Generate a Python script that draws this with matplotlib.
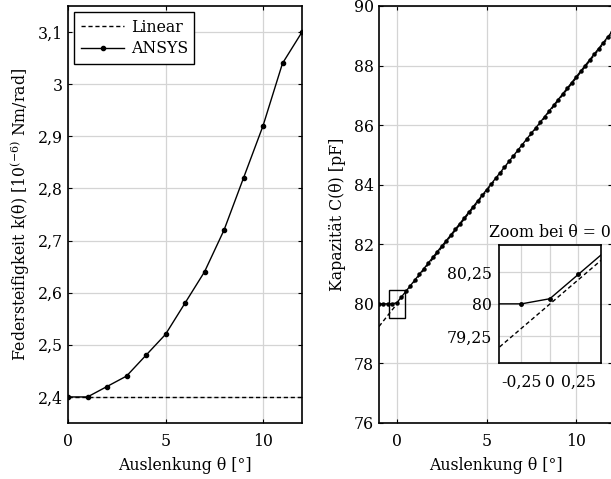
import numpy as np
import matplotlib
matplotlib.use("Agg")
import matplotlib.pyplot as plt
from matplotlib.patches import Rectangle

plt.rcParams['font.family'] = ['DejaVu Serif']
plt.rcParams['mathtext.fontset'] = 'dejavuserif'
FS = 11.3
plt.rcParams['font.size'] = FS

# ---- left panel data ----
theta_k = [0, 1, 2, 3, 4, 5, 6, 7, 8, 9, 10, 11, 12]
k_ansys = [2.40, 2.40, 2.42, 2.44, 2.48, 2.52, 2.58, 2.64, 2.72, 2.82, 2.92, 3.04, 3.10]
theta_k_lin = [0, 12]
k_lin = [2.40, 2.40]
k_yticks = [2.4, 2.5, 2.6, 2.7, 2.8, 2.9, 3.0, 3.1]
k_yticklabels = ["2,4", "2,5", "2,6", "2,7", "2,8", "2,9", "3", "3,1"]

# ---- right panel data ----
theta_c = np.arange(-1, 12.001, 0.25)
c_ansys = [80.00, 80.00, 80.00, 80.00,
           80.04, 80.23, 80.42, 80.61, 80.80, 80.99, 81.18, 81.37, 81.56,
           81.75, 81.94, 82.12, 82.31, 82.50, 82.69, 82.88, 83.07, 83.26,
           83.45, 83.64, 83.83, 84.02, 84.21, 84.40, 84.59, 84.78, 84.97,
           85.16, 85.35, 85.54, 85.73, 85.91, 86.10, 86.29, 86.48, 86.67,
           86.86, 87.05, 87.24, 87.43, 87.62, 87.81, 88.00, 88.19, 88.38,
           88.57, 88.76, 88.95, 89.14]
theta_c_lin = [-1, 12]
c_lin = [79.24, 89.10]
c_yticks = [76, 78, 80, 82, 84, 86, 88, 90]

inset_xticks = [-0.25, 0, 0.25]
inset_xticklabels = ["-0,25", "0", "0,25"]
inset_yticks = [79.75, 80, 80.25]
inset_yticklabels = ["79,25", "80", "80,25"]
inset_xlim = (-0.45, 0.45)
inset_ylim = (79.54, 80.46)

grid_kw = dict(color='#d4d4d4', linewidth=0.9)
line_kw = dict(color='black', linewidth=1.0)


def style(ax):
    ax.grid(True, **grid_kw)
    ax.set_axisbelow(True)
    ax.tick_params(direction='in', top=True, right=True, length=3, width=0.8,
                   labelsize=FS, colors='black')
    ax.tick_params(axis='x', pad=7.5)
    for s in ax.spines.values():
        s.set_linewidth(1.2)
        s.set_color('black')


fig = plt.figure(figsize=(6.11, 4.79), dpi=100)

ax1 = fig.add_axes([68 / 611, 56 / 479, 234 / 611, 417 / 479])
ax1.plot(theta_k_lin, k_lin, linestyle='--', dashes=(3, 2), label='Linear', **line_kw)
ax1.plot(theta_k, k_ansys, marker='o', markersize=3, label='ANSYS', **line_kw)
ax1.set_xlim(0, 12)
ax1.set_ylim(2.35, 3.15)
ax1.set_xticks([0, 5, 10])
ax1.set_yticks(k_yticks)
ax1.set_yticklabels(k_yticklabels)
ax1.set_xlabel('Auslenkung θ [°]', labelpad=5)
ax1.set_ylabel(r'Federsteifigkeit k(θ) [10$^{\mathrm{(-6)}}$ Nm/rad]', labelpad=4)
style(ax1)
leg = ax1.legend(loc='upper left', fancybox=False, edgecolor='black',
                 framealpha=1, handlelength=2.8, borderpad=0.4,
                 labelspacing=0.3, handletextpad=0.4, borderaxespad=0.4)
leg.get_frame().set_linewidth(1.0)

ax2 = fig.add_axes([379 / 611, 56 / 479, 233 / 611, 417 / 479])
ax2.plot(theta_c_lin, c_lin, linestyle='--', dashes=(3, 2), **line_kw)
ax2.plot(theta_c, c_ansys, marker='o', markersize=2.2, **line_kw)
ax2.set_xlim(-1, 12)
ax2.set_ylim(76, 90)
ax2.set_xticks([0, 5, 10])
ax2.set_yticks(c_yticks)
ax2.set_xlabel('Auslenkung θ [°]', labelpad=5)
ax2.set_ylabel('Kapazität C(θ) [pF]', labelpad=6)
style(ax2)
ax2.add_patch(Rectangle((inset_xlim[0], inset_ylim[0]),
                        inset_xlim[1] - inset_xlim[0], inset_ylim[1] - inset_ylim[0],
                        fill=False, edgecolor='black', linewidth=1.0, zorder=5))

ax3 = fig.add_axes([498.7 / 611, (479 - 362.7) / 479, 102.3 / 611, 117.7 / 479])
ax3.set_facecolor('white')
ax3.plot(theta_c_lin, c_lin, linestyle='--', dashes=(3, 2), **line_kw)
ax3.plot(theta_c, c_ansys, marker='o', markersize=2.5, **line_kw)
ax3.set_xlim(*inset_xlim)
ax3.set_ylim(*inset_ylim)
ax3.set_xticks(inset_xticks)
ax3.set_xticklabels(inset_xticklabels)
ax3.set_yticks(inset_yticks)
ax3.set_yticklabels(inset_yticklabels)
style(ax3)
ax3.tick_params(top=False, right=False, length=0)
ax3.tick_params(axis='x', pad=8)
ax3.tick_params(axis='y', pad=5)
ax3.set_title('Zoom bei θ = 0', fontsize=FS, pad=6)

fig.savefig('out.png', dpi=100, facecolor='white')
